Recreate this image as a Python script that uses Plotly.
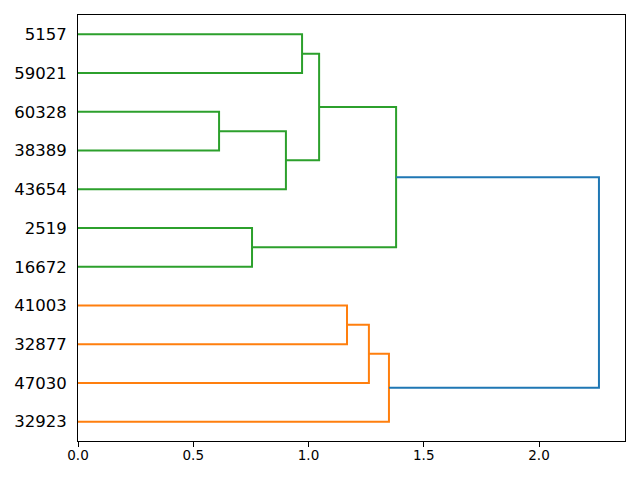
import plotly.graph_objects as go

# Leaf labels, bottom to top (scipy order)
leaf_labels = ["32923", "47030", "32877", "41003", "16672", "2519",
               "43654", "38389", "60328", "59021", "5157"]

# Linkage: each merge creates a new cluster id (11, 12, ...)
merge_left = [7, 4, 6, 9, 13, 12, 2, 1, 0, 19]
merge_right = [8, 5, 11, 10, 14, 15, 3, 17, 18, 16]
merge_height = [0.612, 0.755, 0.902, 0.972, 1.046, 1.380, 1.167, 1.262, 1.349, 2.260]
merge_color = ["#2ca02c"] * 6 + ["#ff7f0e"] * 3 + ["#1f77b4"]

n = len(leaf_labels)
pos = {i: 5 + 10 * i for i in range(n)}
hgt = {i: 0.0 for i in range(n)}

fig = go.Figure()
for k, (a, b, h, c) in enumerate(zip(merge_left, merge_right, merge_height, merge_color)):
    cid = n + k
    xs = [hgt[a], h, h, hgt[b]]
    ys = [pos[a], pos[a], pos[b], pos[b]]
    fig.add_trace(go.Scatter(x=xs, y=ys, mode="lines",
                             line=dict(color=c, width=2), showlegend=False,
                             hoverinfo="skip"))
    pos[cid] = (pos[a] + pos[b]) / 2
    hgt[cid] = h

xmax = max(merge_height) * 1.05

fig.update_layout(
    width=640, height=480,
    margin=dict(l=78, r=15, t=15, b=39, autoexpand=False),
    plot_bgcolor="white", paper_bgcolor="white",
    font=dict(family="DejaVu Sans", color="black"),
)
fig.update_xaxes(range=[0, xmax], tickvals=[0, 0.5, 1.0, 1.5, 2.0],
                 ticktext=["0.0", "0.5", "1.0", "1.5", "2.0"],
                 showgrid=False, zeroline=False, showline=True, linecolor="black",
                 linewidth=1, mirror=True, ticks="outside", ticklen=5,
                 tickcolor="black", tickfont=dict(size=13.5), automargin=False,
                 ticklabelstandoff=-3)
fig.update_yaxes(range=[0, 10 * n], tickvals=[5 + 10 * i for i in range(n)],
                 ticktext=leaf_labels,
                 showgrid=False, zeroline=False, showline=True, linecolor="black",
                 linewidth=1, mirror=True, ticks="", tickfont=dict(size=16.5),
                 automargin=False, ticklabelstandoff=7)

fig.write_html("out.html", config={"displayModeBar": False},
               post_script="document.body.style.margin='0';document.body.style.padding='0';")
